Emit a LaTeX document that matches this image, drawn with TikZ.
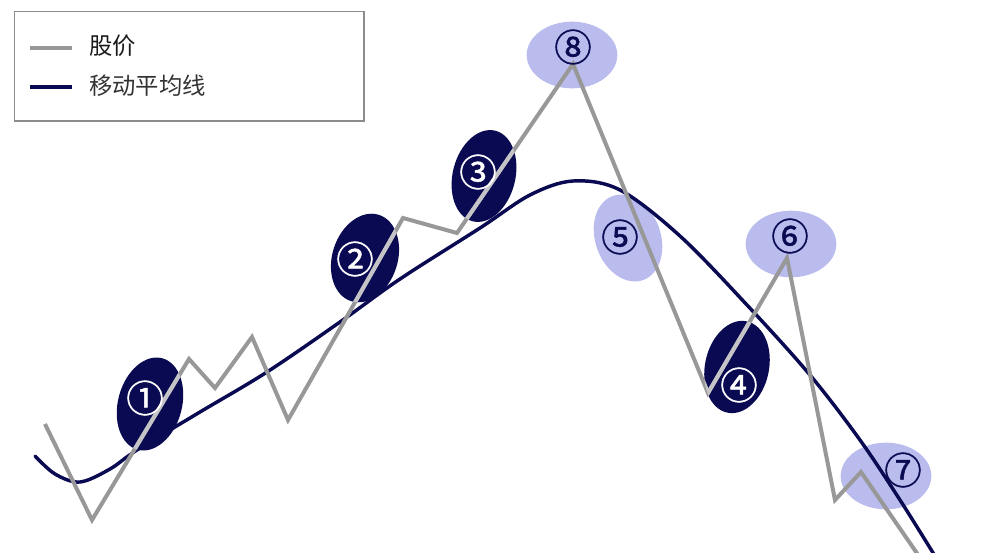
\documentclass[tikz,border=0pt]{standalone}
\usepackage{fontspec}
\setmainfont{Noto Sans CJK SC}
\newfontfamily\cjk{Noto Sans CJK SC}
\newfontfamily\cjkdigit[FakeBold=1.3]{Noto Sans CJK SC}
\usetikzlibrary{shapes.geometric}
\definecolor{navy}{RGB}{10,10,82}
\definecolor{pricegray}{RGB}{152,152,152}
\definecolor{pricelight}{RGB}{196,196,200}
\definecolor{lightblob}{RGB}{186,188,238}
\definecolor{framegray}{RGB}{140,140,140}
\tikzset{
  pricestyle/.style={draw=pricegray, line width=3pt},
  mastyle/.style={draw=navy, line width=2.6pt},
  digitdark/.style={font=\cjkdigit\fontsize{28}{28}\selectfont, text=white, inner sep=0pt},
  digitlight/.style={font=\cjkdigit\fontsize{28}{28}\selectfont, text=navy, inner sep=0pt},
  legtext/.style={font=\cjk\fontsize{17.5}{17.5}\selectfont, anchor=west, inner sep=0pt},
}
\newcommand\pricepath{(p0) -- (p1) -- (p2) -- (p3) -- (p4) -- (p5) -- (p6) -- (p7) -- (p8) -- (p9) -- (p10) -- (p11) -- (p12) -- (p13)}
\begin{document}
\begin{tikzpicture}[x=0.75pt,y=-0.75pt]
\useasboundingbox (0,0) rectangle (1000,553);
% legend
\node[draw=framegray, line width=1.1pt, minimum width=262pt, minimum height=82pt, inner sep=0pt, anchor=north west] (legend) at (14,11) {};
\coordinate (g1) at (30,48); \coordinate (g2) at (72,48);
\coordinate (n1) at (30,87); \coordinate (n2) at (72,87);
\draw[pricestyle] (g1) -- (g2);
\draw[navy, line width=3pt] (n1) -- (n2);
\node[legtext, text=black!90] (lt1) at (89,46) {股价};
\node[legtext, text=black!80] (lt2) at (89,86) {移动平均线};
% blobs
\node[ellipse, fill=navy, minimum width=48pt, minimum height=71pt, rotate=-15] (e1) at (150,404) {};
\node[ellipse, fill=navy, minimum width=49pt, minimum height=68pt, rotate=-18] (e2) at (365,258) {};
\node[ellipse, fill=navy, minimum width=47pt, minimum height=70pt, rotate=-14] (e3) at (484,176) {};
\node[ellipse, fill=navy, minimum width=48pt, minimum height=70pt, rotate=-12] (e4) at (737,367) {};
\node[ellipse, fill=lightblob, minimum width=68pt, minimum height=50pt] (e8) at (572,55) {};
\node[ellipse, fill=lightblob, minimum width=49pt, minimum height=67pt, rotate=20] (e5) at (628,238) {};
\node[ellipse, fill=lightblob, minimum width=68pt, minimum height=50pt] (e6) at (791,244) {};
\node[ellipse, fill=lightblob, minimum width=68pt, minimum height=50pt] (e7) at (886,476) {};
% moving average
\draw[mastyle, line cap=round] plot[smooth, tension=0.55] coordinates {(35,456) (55,474) (80,482) (110,469) (137,450) (200,412) (267,372) (340,322) (400,279) (480,228) (530,195) (573,181) (620,190) (680,236) (747,305) (810,375) (860,440) (900,500) (935,556)};
% price
\coordinate (p0) at (45,424);
\coordinate (p1) at (92,520);
\coordinate (p2) at (189,359);
\coordinate (p3) at (215,388);
\coordinate (p4) at (252,337);
\coordinate (p5) at (288,420);
\coordinate (p6) at (403,218);
\coordinate (p7) at (457,233);
\coordinate (p8) at (573,64);
\coordinate (p9) at (708,393);
\coordinate (p10) at (787,258);
\coordinate (p11) at (835,500);
\coordinate (p12) at (861,472);
\coordinate (p13) at (923,562);
\draw[pricestyle] \pricepath;
% lighter price line inside the dark blobs
\begin{scope}
\clip[rotate around={-15:(150,404)}] (150,404) ellipse [x radius=24pt, y radius=35.5pt];
\draw[pricestyle, draw=pricelight] \pricepath;
\end{scope}
\begin{scope}
\clip[rotate around={-18:(365,258)}] (365,258) ellipse [x radius=24.5pt, y radius=34pt];
\draw[pricestyle, draw=pricelight] \pricepath;
\end{scope}
\begin{scope}
\clip[rotate around={-14:(484,176)}] (484,176) ellipse [x radius=23.5pt, y radius=35pt];
\draw[pricestyle, draw=pricelight] \pricepath;
\end{scope}
\begin{scope}
\clip[rotate around={-12:(737,367)}] (737,367) ellipse [x radius=24pt, y radius=35pt];
\draw[pricestyle, draw=pricelight] \pricepath;
\end{scope}
% digits
\node[digitdark] (d1) at (145,398) {①};
\node[digitdark] (d2) at (355,259) {②};
\node[digitdark] (d3) at (478,172) {③};
\node[digitdark] (d4) at (739,385) {④};
\node[digitlight] (d5) at (620,237) {⑤};
\node[digitlight] (d6) at (790,236) {⑥};
\node[digitlight] (d7) at (903,470) {⑦};
\node[digitlight] (d8) at (573,47) {⑧};
\end{tikzpicture}
\end{document}
